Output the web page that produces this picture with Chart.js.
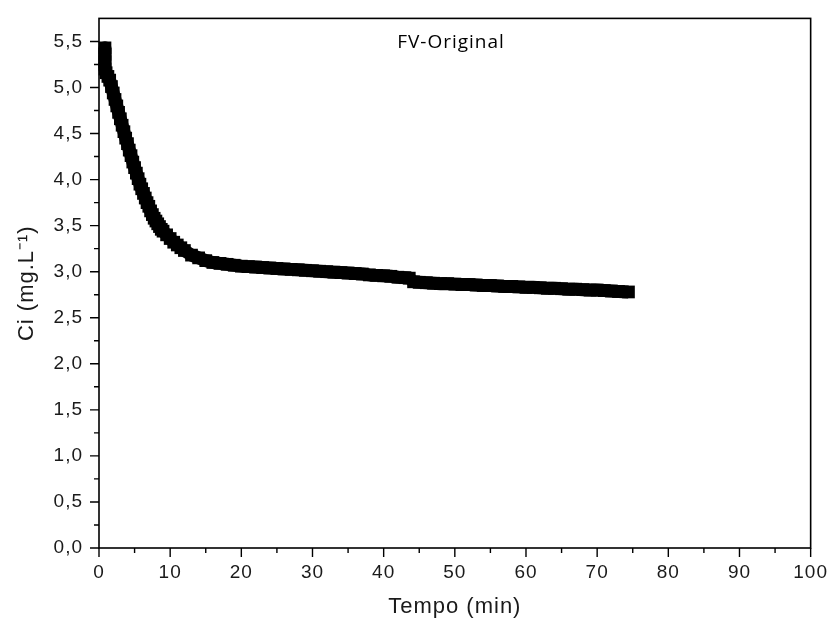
<!DOCTYPE html>
<html>
<head>
<meta charset="utf-8">
<title>FV-Original</title>
<script src="https://cdn.jsdelivr.net/npm/chart.js@4"></script>
<style>
  body { margin: 0; background: #fff; }
  canvas { display: block; }
</style>
</head>
<body>
<canvas id="chart" width="832" height="623"></canvas>
<script>
// tempo (min) and Ci (mg/L)
const tempo = [0.84, 0.84, 0.84, 0.84, 1.0, 1.25, 1.5, 1.75, 2.0, 2.25, 2.5, 2.75, 3.0, 3.25, 3.5, 3.75,
  4.0, 4.25, 4.5, 4.75, 5.0, 5.25, 5.5, 5.75, 6.0, 6.25, 6.5, 6.75, 7.0, 7.25, 7.5, 7.75,
  8.0, 8.25, 8.5, 8.75, 9.0, 9.5, 10, 10.5, 11, 11.5, 12, 13, 14, 15, 16, 17, 18, 19,
  20, 21, 22, 23, 24, 25, 26, 27, 28, 29, 30, 31, 32, 33, 34, 35, 36, 37, 38, 39, 40, 41, 42, 43, 43.6,
  44.2, 45, 46, 47, 48, 49, 50, 51, 52, 53, 54, 55, 56, 57, 58, 59, 60, 61, 62, 63, 64, 65, 66, 67, 68, 69,
  70, 71, 72, 73, 74.4];
const ci = [5.43, 5.36, 5.28, 5.20, 5.16, 5.12, 5.08, 5.01, 4.94, 4.87, 4.80, 4.73, 4.66, 4.59, 4.52, 4.45,
  4.39, 4.32, 4.26, 4.19, 4.13, 4.07, 4.01, 3.95, 3.90, 3.85, 3.80, 3.75, 3.71, 3.66, 3.62, 3.58,
  3.55, 3.52, 3.49, 3.46, 3.44, 3.40, 3.36, 3.32, 3.29, 3.26, 3.23, 3.18, 3.15, 3.12, 3.10, 3.09, 3.08, 3.07,
  3.06, 3.055, 3.05, 3.045, 3.04, 3.035, 3.03, 3.025, 3.02, 3.015, 3.01, 3.005, 3.00, 2.995, 2.99, 2.985, 2.98, 2.975, 2.965, 2.96, 2.955, 2.95, 2.94, 2.935, 2.93,
  2.89, 2.885, 2.88, 2.875, 2.87, 2.87, 2.865, 2.86, 2.86, 2.855, 2.85, 2.85, 2.845, 2.84, 2.84, 2.835, 2.83, 2.83, 2.825, 2.82, 2.82, 2.815, 2.81, 2.81, 2.805, 2.80,
  2.80, 2.795, 2.79, 2.785, 2.78];

const xTicks = [0, 10, 20, 30, 40, 50, 60, 70, 80, 90, 100];
const yTicks = [0, 0.5, 1, 1.5, 2, 2.5, 3, 3.5, 4, 4.5, 5, 5.5];
const seriesLabel = "FV-Original";

const points = tempo.map((t, i) => ({ x: t, y: ci[i] }));

// frame + major/minor tick marks, drawn with the chart's own scales
const framePlugin = {
  id: "frame",
  beforeUpdate(chart) {
    chart.ctx.letterSpacing = "1px";
  },
  afterDatasetsDraw(chart) {
    const c = chart.ctx;
    const a = chart.chartArea;
    const xs = chart.scales.x;
    const ys = chart.scales.y;
    c.save();
    c.strokeStyle = "#000";
    c.lineWidth = 1.6;
    c.strokeRect(a.left, a.top, a.right - a.left, a.bottom - a.top);
    c.lineWidth = 1.4;
    c.beginPath();
    for (let v = xs.min; v <= xs.max; v += 5) {
      const px = xs.getPixelForValue(v);
      const len = xTicks.includes(v) ? 9 : 5;
      c.moveTo(px, a.bottom);
      c.lineTo(px, a.bottom + len);
    }
    for (let k = 0; k <= 22; k++) {
      const v = k * 0.25;
      const py = ys.getPixelForValue(v);
      const len = k % 2 === 0 ? 9 : 5;
      c.moveTo(a.left, py);
      c.lineTo(a.left - len, py);
    }
    c.stroke();

    c.fillStyle = "#000";
    c.letterSpacing = "1px";
    c.font = "19px 'Open Sans'";
    c.textAlign = "center";
    c.textBaseline = "alphabetic";
    c.fillText(seriesLabel, 451, 48);
    c.restore();
  }
};

document.addEventListener("DOMContentLoaded", function () {
  const ctx = document.getElementById("chart").getContext("2d");
  new Chart(ctx, {
    type: "scatter",
    data: {
      datasets: [{
        label: seriesLabel,
        data: points,
        showLine: true,
        borderColor: "#000",
        borderWidth: 13,
        borderJoinStyle: "round",
        backgroundColor: "#000",
        pointStyle: "rect",
        pointRadius: 9,
        pointBorderWidth: 0,
        pointHoverRadius: 9,
        clip: false
      }]
    },
    options: {
      responsive: false,
      animation: false,
      devicePixelRatio: 1,
      layout: { padding: { top: 16, right: 18, left: 0, bottom: 0 } },
      plugins: {
        legend: { display: false },
        tooltip: { enabled: false }
      },
      scales: {
        x: {
          type: "linear",
          min: 0,
          max: 100,
          afterFit(scale) { scale.height = 75; },
          grid: { drawOnChartArea: false, tickLength: 9, tickColor: "rgba(0,0,0,0)" },
          border: { display: false },
          ticks: {
            stepSize: 10,
            autoSkip: false,
            maxRotation: 0,
            padding: 4,
            color: "#1a1a1a",
            font: { family: "'Liberation Sans', Arial", size: 19 },
            callback: (v) => xTicks.includes(v) ? String(v) : ""
          },
          title: {
            display: true,
            text: "Tempo (min)",
            color: "#1a1a1a",
            font: { family: "'Liberation Sans', Arial", size: 22 },
            padding: { top: 0, bottom: 3 }
          }
        },
        y: {
          min: 0,
          max: 5.75,
          afterFit(scale) { scale.width = 99; },
          grid: { drawOnChartArea: false, tickLength: 9, tickColor: "rgba(0,0,0,0)" },
          border: { display: false },
          ticks: {
            stepSize: 0.5,
            autoSkip: false,
            padding: 7,
            color: "#1a1a1a",
            font: { family: "'Liberation Sans', Arial", size: 19 },
            callback: (v) => yTicks.includes(v) ? v.toFixed(1).replace(".", ",") : ""
          },
          title: {
            display: true,
            text: "Ci (mg.L\u207B\u00B9)",
            color: "#1a1a1a",
            font: { family: "'Liberation Sans', Arial", size: 22 },
            padding: { top: 14, bottom: 0 }
          }
        }
      }
    },
    plugins: [framePlugin]
  });
});
</script>
</body>
</html>
